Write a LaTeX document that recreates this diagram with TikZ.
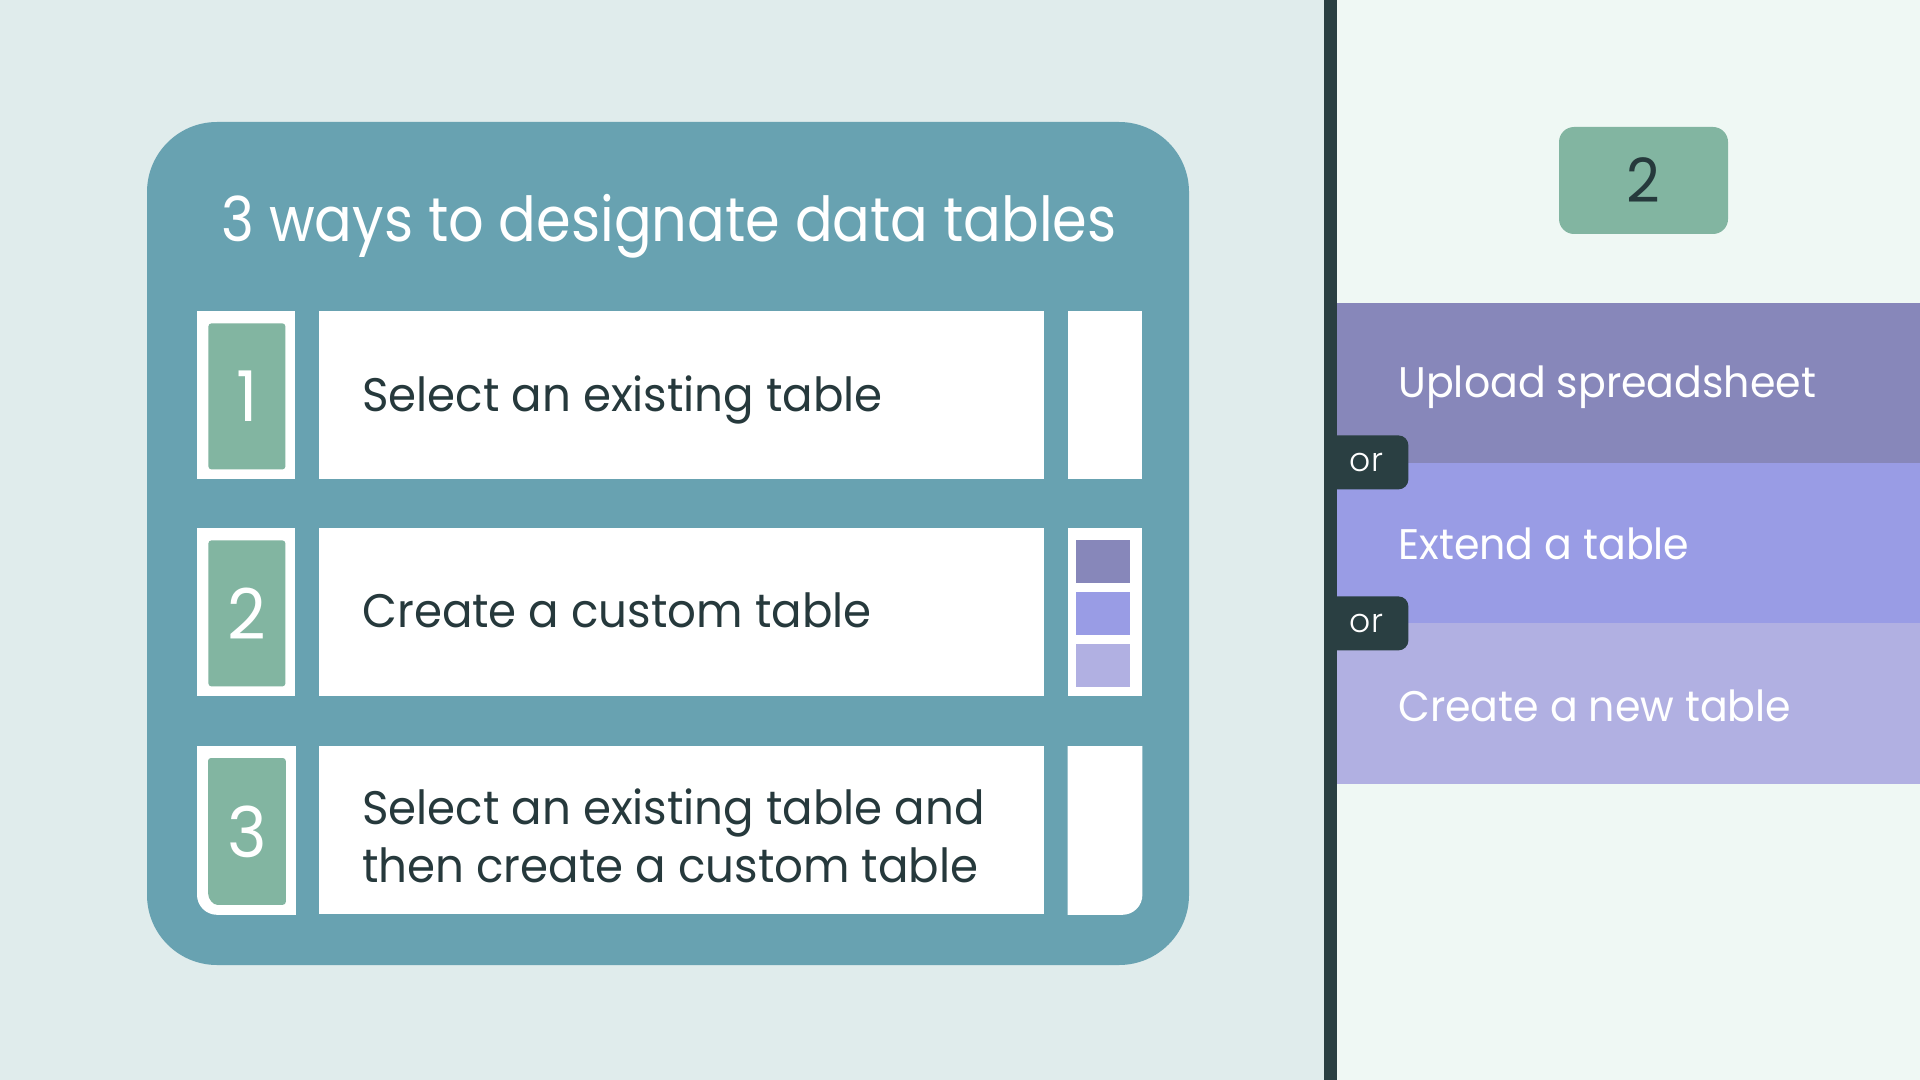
\documentclass[tikz,border=0pt]{standalone}
\usepackage{fontspec}
\setmainfont{Poppins}[FakeStretch=0.96]
\newfontfamily\titlefont{Poppins}[FakeStretch=0.9]
\newfontfamily\thinfont{Poppins Light}
\usetikzlibrary{positioning}

\definecolor{leftbg}{HTML}{E0ECEC}
\definecolor{rightbg}{HTML}{EFF8F4}
\definecolor{panel}{HTML}{68A2B1}
\definecolor{tabgreen}{HTML}{82B5A1}
\definecolor{ink}{HTML}{26393C}
\definecolor{barink}{HTML}{2A3F42}
\definecolor{violetA}{HTML}{8787BA}
\definecolor{violetB}{HTML}{999CE5}
\definecolor{violetC}{HTML}{B1B0E2}

\begin{document}
\begin{tikzpicture}[x=0.5pt, y=-0.5pt]
    \tikzstyle{tab} = [rectangle, fill=white, anchor=north west, inner sep=0pt, minimum width=49pt, minimum height=84pt]
    \tikzstyle{num} = [rectangle, fill=tabgreen, rounded corners=1.5pt, anchor=north west, inner sep=0pt, minimum width=38.5pt, minimum height=73pt, text=white, font=\fontsize{35}{40}\selectfont]
    \tikzstyle{card} = [rectangle, fill=white, inner sep=0pt, minimum width=362.5pt, minimum height=84pt]
    \tikzstyle{side} = [rectangle, fill=white, inner sep=0pt, minimum width=37pt, minimum height=84pt]
    \tikzstyle{cardtext} = [anchor=base west, inner sep=0pt, text=ink, align=left, font=\fontsize{23.5}{29}\selectfont]
    \tikzstyle{swatch} = [rectangle, inner sep=0pt, minimum width=27pt, minimum height=21.5pt]
    \tikzstyle{band} = [rectangle, anchor=north west, inner sep=0pt, minimum width=291.5pt, minimum height=80.5pt]
    \tikzstyle{bandtext} = [anchor=base west, inner sep=0pt, text=white, font=\fontsize{21.4}{26}\selectfont]
    \tikzstyle{ortab} = [rectangle, fill=barink, rounded corners=5pt, anchor=north west, inner sep=0pt, minimum width=42pt, minimum height=27pt, text=white, font=\thinfont\fontsize{16.5}{20}\selectfont]

    \useasboundingbox (0,0) rectangle (1920,1080);
    \fill[leftbg] (0,0) rectangle (1324,1080);
    \fill[rightbg] (1337,0) rectangle (1920,1080);

    % left panel
    \fill[panel, rounded corners=35pt] (147,122) rectangle (1189,965);
    \node[anchor=base, inner sep=0pt, text=white, font=\titlefont\fontsize{31}{36}\selectfont] (title) at (669,242) {3 ways to designate data tables};

    \node[tab] (tab1) at (197,311) {};
    \node[num] (num1) at (208,323) {1};
    \node[card, right=11.5pt of tab1] (card1) {};
    \node[side, right=11.5pt of card1] (side1) {};
    \node[cardtext] (text1) at (362,411) {Select an existing table};

    \node[tab] (tab2) at (197,528) {};
    \node[num] (num2) at (208,540) {2};
    \node[card, right=11.5pt of tab2] (card2) {};
    \node[side, right=11.5pt of card2] (side2) {};
    \node[cardtext] (text2) at (362,627) {Create a custom table};
    \node[swatch, fill=violetA, anchor=north west] (sw1) at (1076,540) {};
    \node[swatch, fill=violetB, below=4pt of sw1] (sw2) {};
    \node[swatch, fill=violetC, below=4pt of sw2] (sw3) {};

    % last row has a rounded outer corner
    \node[tab, fill=none] (tab3) at (197,746) {};
    \fill[white] (tab3.north west) -- (tab3.north east) -- (tab3.south east) -- ([xshift=10pt]tab3.south west) arc[start angle=270, end angle=180, radius=10pt] -- cycle;
    \node[num, fill=none] (num3) at (208,758) {};
    \fill[tabgreen, rounded corners=1.5pt] (num3.north west) -- (num3.north east) -- (num3.south east) -- ([xshift=6pt]num3.south west) [sharp corners] arc[start angle=270, end angle=180, radius=6pt] [rounded corners=1.5pt] -- cycle;
    \node[num, fill=none] at (num3.north west) {3};
    \node[card, right=11.5pt of tab3] (card3) {};
    \node[side, fill=none, right=11.5pt of card3] (side3) {};
    \fill[white] (side3.north west) -- (side3.north east) -- ([yshift=10pt]side3.south east) arc[start angle=0, end angle=-90, radius=10pt] -- (side3.south west) -- cycle;
    \node[cardtext, anchor=west] (text3) at (362,836) {Select an existing table and\\then create a custom table};

    % right side
    \node[rectangle, fill=tabgreen, rounded corners=7.5pt, minimum width=84.5pt, minimum height=53.5pt, text=ink, font=\fontsize{30.5}{36}\selectfont] (stepnum) at (1643.5,180.5) {2};

    \node[band, fill=violetA] (band1) at (1337,303) {};
    \node[band, fill=violetB] (band2) at (1337,463) {};
    \node[band, fill=violetC] (band3) at (1337,623) {};
    \node[bandtext] (upload) at (1398,397) {Upload spreadsheet};
    \node[bandtext] (extend) at (1398,559) {Extend a table};
    \node[bandtext] (create) at (1398,721) {Create a new table};

    \node[ortab] (or1) at (1324,435) {or};
    \node[ortab] (or2) at (1324,596) {or};
    \fill[barink] (1324,0) rectangle (1337,1080);
\end{tikzpicture}
\end{document}
